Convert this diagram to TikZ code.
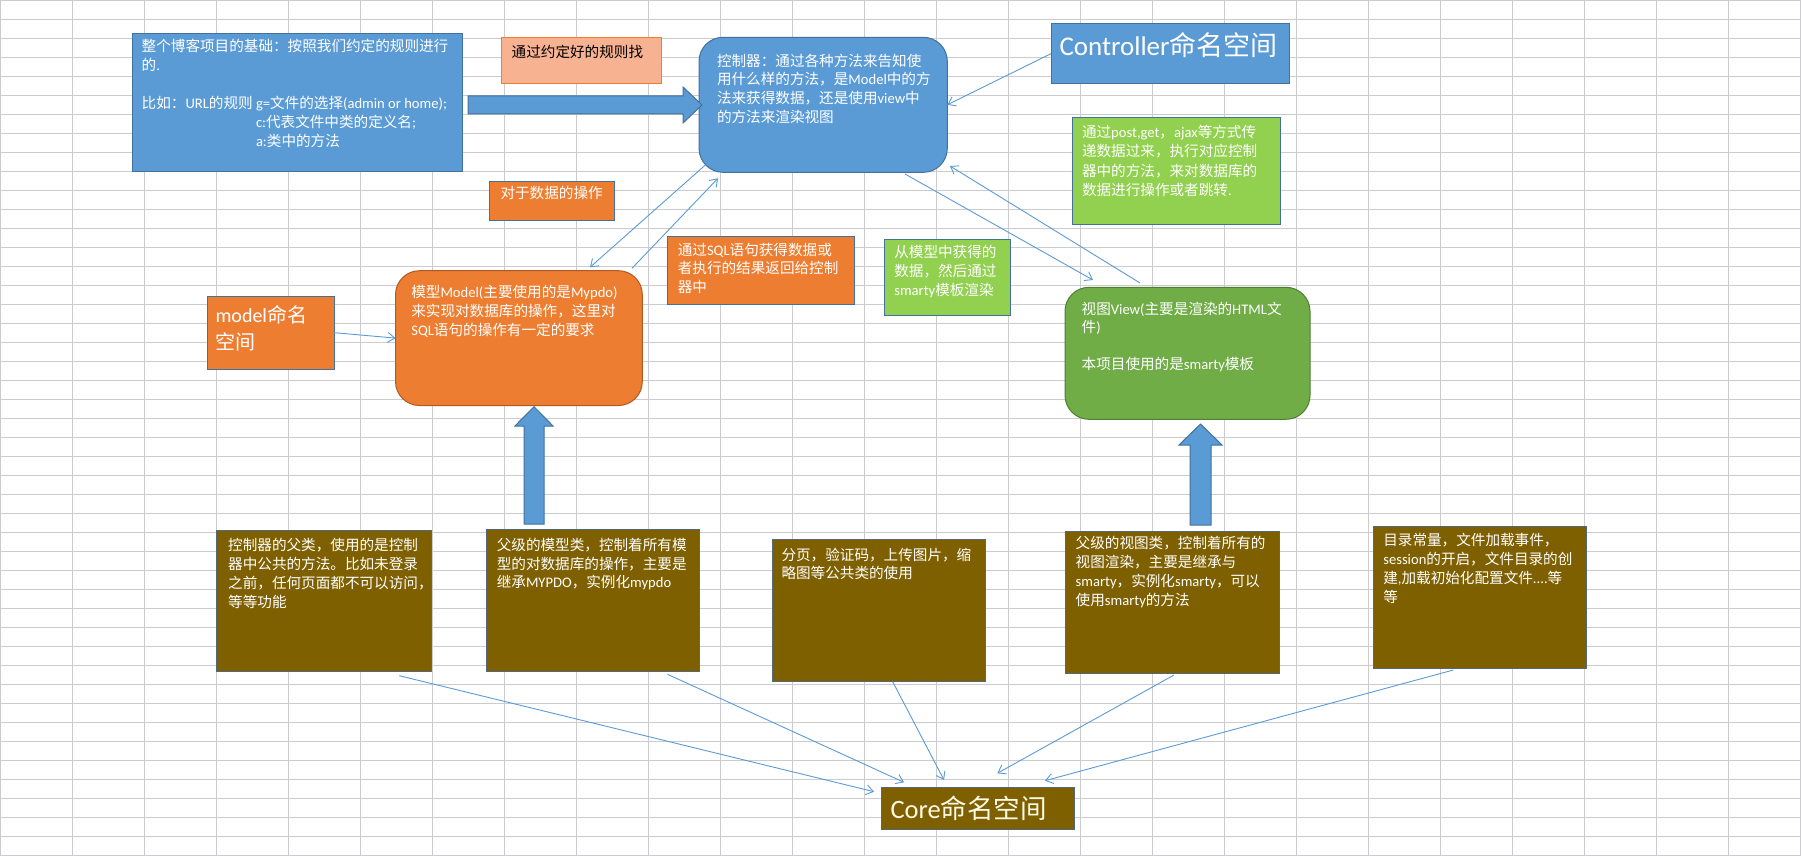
\documentclass[tikz,border=0pt]{standalone}
\usepackage{fontspec}
\setmainfont{Carlito}
\newfontfamily\cjkf{Noto Sans CJK SC}
\usetikzlibrary{arrows.meta}
% font switching between Latin (Carlito) and CJK (Noto Sans CJK SC)
\XeTeXinterchartokenstate=1
\newXeTeXintercharclass\CJKcls
\count255=0
\loop\ifnum\count255<"3000 \XeTeXcharclass\count255=0 \advance\count255 by 1 \repeat
\count255="3000
\loop\ifnum\count255<"A000 \XeTeXcharclass\count255=\CJKcls \advance\count255 by 1 \repeat
\count255="FF00
\loop\ifnum\count255<"FFF0 \XeTeXcharclass\count255=\CJKcls \advance\count255 by 1 \repeat
\XeTeXinterchartoks 0 \CJKcls = {\cjkf}
\XeTeXinterchartoks 4095 \CJKcls = {\cjkf}
\XeTeXinterchartoks \CJKcls 0 = {\rmfamily}
\XeTeXinterchartoks \CJKcls 4095 = {\rmfamily}
\XeTeXinterchartoks 4095 0 = {\rmfamily}
\definecolor{gridc}{RGB}{204,204,208}
\definecolor{xblue}{RGB}{91,155,213}
\definecolor{xblueb}{RGB}{65,113,156}
\definecolor{xorange}{RGB}{237,125,49}
\definecolor{xorangeb}{RGB}{174,90,33}
\definecolor{xpeach}{RGB}{247,178,145}
\definecolor{xlgreen}{RGB}{146,208,80}
\definecolor{xgreen}{RGB}{112,173,71}
\definecolor{xgreenb}{RGB}{80,126,50}
\definecolor{xbrown}{RGB}{127,96,0}
\definecolor{xgrayb}{RGB}{84,104,120}
\tikzset{
  boxbase/.style={draw=xblueb, line width=1pt, inner sep=0pt, outer sep=0pt, anchor=north west},
  rbox/.style={boxbase, rounded corners=24pt},
  txt/.style={anchor=north west, inner sep=0pt, outer sep=0pt, align=left, text=white,
              font=\cjkf\fontsize{14.6}{#1}\selectfont},
  txt/.default=19,
  conn/.style={draw=xblue, line width=0.9pt, -{Straight Barb[length=7pt,width=10pt]}},
  blockarrow/.style={fill=xblue, draw=xblueb, line width=1pt},
  gridline/.style={draw=gridc, line width=1pt}
}
\begin{document}
\begin{tikzpicture}[x=1pt,y=-1pt]
\useasboundingbox (0,0) rectangle (1801,856);
\fill[white] (0,0) rectangle (1801,856);
% spreadsheet grid
\foreach \i in {0,...,25} \draw[gridline] (\i*72,0) -- (\i*72,856);
\foreach \j in {0,...,45} \draw[gridline] (0,\j*19+0.3) -- (1801,\j*19+0.3);

% boxes
\node[boxbase, fill=xblue, minimum width=330pt, minimum height=137.7pt] (b1) at (132.3,33.3) {};
\node[txt] (b1t) at (141.7,39.2) {整个博客项目的基础：按照我们约定的规则进行\\的.\\[19pt]\makebox[114.3pt][l]{比如：URL的规则}g=文件的选择(admin or home);\\\hspace*{114.3pt}c:代表文件中类的定义名;\\\hspace*{114.3pt}a:类中的方法};

\node[boxbase, draw=xorange, fill=xpeach, minimum width=160pt, minimum height=46.7pt] (peach) at (501,37.3) {};
\node[txt, text=black] (peacht) at (511.7,45) {通过约定好的规则找};

\node[rbox, fill=xblue, minimum width=248.3pt, minimum height=135pt] (ctrl) at (699,37.3) {};
\node[txt=18.7] (ctrlt) at (717,53.7) {控制器：通过各种方法来告知使\\用什么样的方法，是Model中的方\\法来获得数据，还是使用view中\\的方法来渲染视图};

\node[boxbase, fill=xblue, minimum width=238.7pt, minimum height=60.7pt] (ctrlns) at (1051,23.3) {};
\node[txt, font=\cjkf\fontsize{27}{31}\selectfont] (ctrlnst) at (1059.5,32.5) {Controller命名空间};

\node[boxbase, fill=xlgreen, minimum width=208pt, minimum height=106.7pt] (g1) at (1072,117.3) {};
\node[txt=19.5] (g1t) at (1082,124.7) {通过post,get，ajax等方式传\\递数据过来，执行对应控制\\器中的方法，来对数据库的\\数据进行操作或者跳转.};

\node[boxbase, fill=xorange, minimum width=125pt, minimum height=39.7pt] (dop) at (489.4,181) {};
\node[txt] (dopt) at (500.5,186.2) {对于数据的操作};

\node[boxbase, fill=xorange, minimum width=186.5pt, minimum height=67.3pt] (sql) at (667.5,236.7) {};
\node[txt=18.4] (sqlt) at (677.8,243.2) {通过SQL语句获得数据或\\者执行的结果返回给控制\\器中};

\node[rbox, draw=xorangeb, fill=xorange, minimum width=246.8pt, minimum height=134.8pt] (model) at (395.5,270.7) {};
\node[txt=19.2] (modelt) at (411.3,284.9) {模型Model(主要使用的是Mypdo)\\来实现对数据库的操作，这里对\\SQL语句的操作有一定的要求};

\node[boxbase, fill=xorange, minimum width=126.3pt, minimum height=73.3pt] (modelns) at (207.7,296) {};
\node[txt, font=\cjkf\fontsize{20}{27.5}\selectfont] (modelnst) at (215.5,305) {model命名\\空间};

\node[boxbase, fill=xlgreen, minimum width=126.4pt, minimum height=76pt] (gs) at (884.3,239.3) {};
\node[txt=19.2] (gst) at (894.3,244.9) {从模型中获得的\\数据，然后通过\\smarty模板渲染};

\node[rbox, draw=xgreenb, fill=xgreen, minimum width=245pt, minimum height=132pt] (view) at (1065,287.3) {};
\node[txt=18.5] (viewt) at (1081.7,301.7) {视图View(主要是渲染的HTML文\\件)\\[18.5pt]本项目使用的是smarty模板};

\node[boxbase, draw=xgrayb, fill=xbrown, minimum width=215pt, minimum height=141pt] (br1) at (216.7,530) {};
\node[txt] (br1t) at (228.2,538.2) {控制器的父类，使用的是控制\\器中公共的方法。比如未登录\\之前，任何页面都不可以访问，\\等等功能};

\node[boxbase, draw=xgrayb, fill=xbrown, minimum width=212.5pt, minimum height=142pt] (br2) at (486.5,529) {};
\node[txt=18.5] (br2t) at (496.8,538.2) {父级的模型类，控制着所有模\\型的对数据库的操作，主要是\\继承MYPDO，实例化mypdo};

\node[boxbase, draw=xgrayb, fill=xbrown, minimum width=213.4pt, minimum height=141.7pt] (br3) at (772.3,539.3) {};
\node[txt=18] (br3t) at (781.5,548.2) {分页，验证码，上传图片，缩\\略图等公共类的使用};

\node[boxbase, draw=xgrayb, fill=xbrown, minimum width=214pt, minimum height=141.8pt] (br4) at (1065.3,531.5) {};
\node[txt] (br4t) at (1075.7,536.5) {父级的视图类，控制着所有的\\视图渲染，主要是继承与\\smarty，实例化smarty，可以\\使用smarty的方法};

\node[boxbase, draw=xgrayb, fill=xbrown, minimum width=213.4pt, minimum height=141.6pt] (br5) at (1373.3,526.7) {};
\node[txt] (br5t) at (1383.3,533.2) {目录常量，文件加载事件，\\session的开启，文件目录的创\\建,加载初始化配置文件....等\\等};

\node[boxbase, draw=xgrayb, fill=xbrown, minimum width=193pt, minimum height=42pt] (core) at (881,787.3) {};
\node[txt, text={rgb,255:red,255;green,250;blue,230}, font=\cjkf\fontsize{26.5}{30}\selectfont] (coret) at (890.5,795.5) {Core命名空间};

% block arrows
\draw[blockarrow] (468,96) -- (683,96) -- (683,87) -- (702,105) -- (683,123) -- (683,114) -- (468,114) -- cycle;
\draw[blockarrow] (524,524) -- (524,426) -- (515,426) -- (534,406.7) -- (553,426) -- (544,426) -- (544,524) -- cycle;
\draw[blockarrow] (1190,525) -- (1190,445) -- (1179,445) -- (1200.5,424) -- (1222,445) -- (1211,445) -- (1211,525) -- cycle;

% connectors
\draw[conn] (ctrlns.west) -- (ctrl.east);
\draw[conn] ([xshift=6pt,yshift=7pt]ctrl.south west) -- ([xshift=194.5pt,yshift=3.4pt]model.north west);
\draw[conn] ([xshift=-10.3pt,yshift=2.4pt]model.north east) -- ([xshift=19pt,yshift=-6pt]ctrl.south west);
\draw[conn] ([xshift=-42.3pt,yshift=-1.7pt]ctrl.south east) -- ([xshift=28pt,yshift=7.3pt]view.north west);
\draw[conn] ([xshift=75pt,yshift=4.3pt]view.north west) -- ([xshift=2.7pt,yshift=6.3pt]ctrl.south east);
\draw[conn] (modelns.east) -- (model.west);
\draw[conn] ([xshift=182.6pt,yshift=-4.7pt]br1.south west) -- ([xshift=-7pt,yshift=-4.4pt]core.north west);
\draw[conn] ([xshift=181pt,yshift=-3.3pt]br2.south west) -- ([xshift=23pt,yshift=5pt]core.north west);
\draw[conn] ([xshift=120.4pt,yshift=-0.7pt]br3.south west) -- ([xshift=63pt,yshift=7.3pt]core.north west);
\draw[conn] ([xshift=108.7pt,yshift=-1.7pt]br4.south west) -- ([xshift=116.3pt,yshift=14pt]core.north west);
\draw[conn] ([xshift=80pt,yshift=-1.7pt]br5.south west) -- ([xshift=164pt,yshift=6.6pt]core.north west);
\end{tikzpicture}
\end{document}
